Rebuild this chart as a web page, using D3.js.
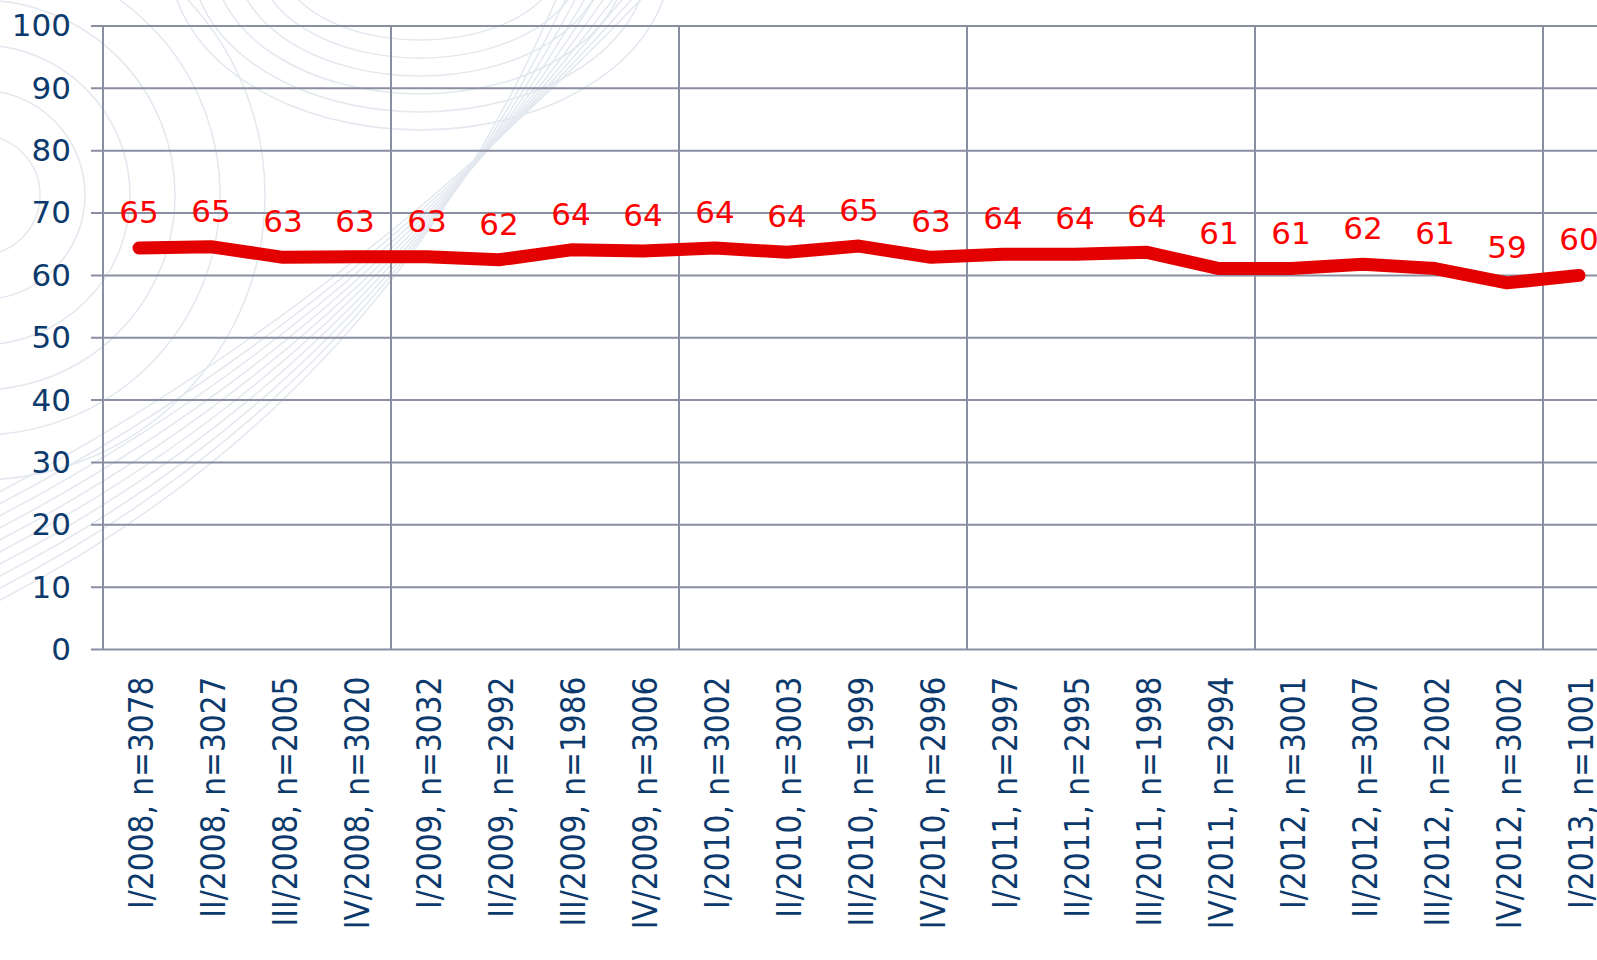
<!DOCTYPE html>
<html>
<head>
<meta charset="utf-8">
<script src="https://cdn.jsdelivr.net/npm/d3@7"></script>
<style>
  body { margin: 0; background: #fff; overflow: hidden; }
  svg { display: block; font-family: "DejaVu Sans", Verdana, sans-serif; }
</style>
</head>
<body>
<div id="chart"></div>
<script>
var width = 1597,
    height = 960

var margin = {top: 26, left: 103, bottom: 310}

var quarters = ["I/2008", "II/2008", "III/2008", "IV/2008", "I/2009", "II/2009", "III/2009", "IV/2009",
  "I/2010", "II/2010", "III/2010", "IV/2010", "I/2011", "II/2011", "III/2011", "IV/2011",
  "I/2012", "II/2012", "III/2012", "IV/2012", "I/2013"]
var sampleSizes = [3078, 3027, 2005, 3020, 3032, 2992, 1986, 3006, 3002, 3003, 1999,
  2996, 2997, 2995, 1998, 2994, 3001, 3007, 2002, 3002, 1001]
var values = [64.4, 64.6, 62.9, 63.0, 63.0, 62.5, 64.1, 63.9, 64.4, 63.7, 64.7,
  62.9, 63.4, 63.4, 63.7, 61.1, 61.1, 61.8, 61.1, 58.8, 60.0]
var valueLabels = [65, 65, 63, 63, 63, 62, 64, 64, 64, 64, 65, 63, 64, 64, 64, 61, 61, 62, 61, 59, 60]
var yTicks = [0, 10, 20, 30, 40, 50, 60, 70, 80, 90, 100]

var categories = quarters.map(function(q, i) { return q + ", n=" + sampleSizes[i] })

var svg = d3.select("#chart")
  .append("svg")
    .attr("width", width)
    .attr("height", height)

// faint background pattern
var deco = svg.append("g")
  .attr("fill", "none")
  .attr("stroke", "#dde3ec")
  .attr("stroke-width", 1.5)
  .style("opacity", 0.8)
d3.range(6).forEach(function(i) {
  deco.append("circle").attr("cx", -20).attr("cy", 195).attr("r", 60 + i * 45)
  deco.append("ellipse").attr("cx", 420).attr("cy", -40).attr("rx", 140 + i * 22).attr("ry", 80 + i * 18)
})
d3.range(10).forEach(function(i) {
  deco.append("path")
    .attr("d", "M" + (-40) + "," + (620 - i * 12) + " Q" + (380 - i * 6) + "," + (420 - i * 10) + " " + (560 + i * 10) + "," + (-10))
})

var x = d3.scaleBand()
  .domain(categories)
  .range([margin.left, margin.left + 72 * categories.length])

var y = d3.scaleLinear()
  .domain([0, 100])
  .range([height - margin.bottom - 0.5, margin.top])

var gridColor = "#8a8fa2"

// horizontal gridlines
svg.append("g")
  .selectAll("line")
  .data(yTicks)
  .enter()
  .append("line")
    .attr("x1", margin.left - 12)
    .attr("x2", width)
    .attr("y1", function(d) { return y(d) })
    .attr("y2", function(d) { return y(d) })
    .attr("stroke", gridColor)
    .attr("stroke-width", 2)

// vertical gridlines every 4 quarters
svg.append("g")
  .selectAll("line")
  .data(categories.filter(function(d, i) { return i % 4 == 0 }))
  .enter()
  .append("line")
    .attr("x1", function(d) { return x(d) })
    .attr("x2", function(d) { return x(d) })
    .attr("y1", y(100))
    .attr("y2", y(0))
    .attr("stroke", gridColor)
    .attr("stroke-width", 2)

// y axis labels
var yAxis = svg.append("g")
  .attr("transform", "translate(" + margin.left + ",0)")
  .call(d3.axisLeft(y).tickValues(yTicks).tickSize(12).tickPadding(20))
yAxis.select(".domain").remove()
yAxis.selectAll(".tick line").remove()
yAxis.selectAll("text")
  .attr("fill", "#0d3a6c")
  .style("font-size", "31px")
  .style("font-family", "DejaVu Sans")

// x axis labels
svg.append("g")
  .selectAll("text")
  .data(categories)
  .enter()
  .append("text")
    .attr("transform", function(d) {
      return "translate(" + (x(d) + x.bandwidth() / 2) + "," + (y(0) + 27) + ") rotate(-90)"
    })
    .attr("dy", "0.42em")
    .style("text-anchor", "end")
    .style("font-family", "'DejaVu Sans Condensed', 'DejaVu Sans'")
    .style("font-size", "33px")
    .attr("fill", "#0d3a6c")
    .text(function(d) { return d })

// line
var line = d3.line()
  .x(function(d, i) { return x(categories[i]) + x.bandwidth() / 2 })
  .y(function(d) { return y(d) })

svg.append("path")
  .datum(values)
  .attr("d", line)
  .attr("fill", "none")
  .attr("stroke", "#e30000")
  .attr("stroke-width", 13)
  .attr("stroke-linecap", "round")
  .attr("stroke-linejoin", "round")

// value labels
svg.append("g")
  .selectAll("text")
  .data(values)
  .enter()
  .append("text")
    .attr("x", function(d, i) { return x(categories[i]) + x.bandwidth() / 2 })
    .attr("y", function(d) { return y(d) - 25 })
    .style("text-anchor", "middle")
    .style("font-size", "31px")
    .attr("fill", "#ff0000")
    .text(function(d, i) { return valueLabels[i] })
</script>
</body>
</html>
